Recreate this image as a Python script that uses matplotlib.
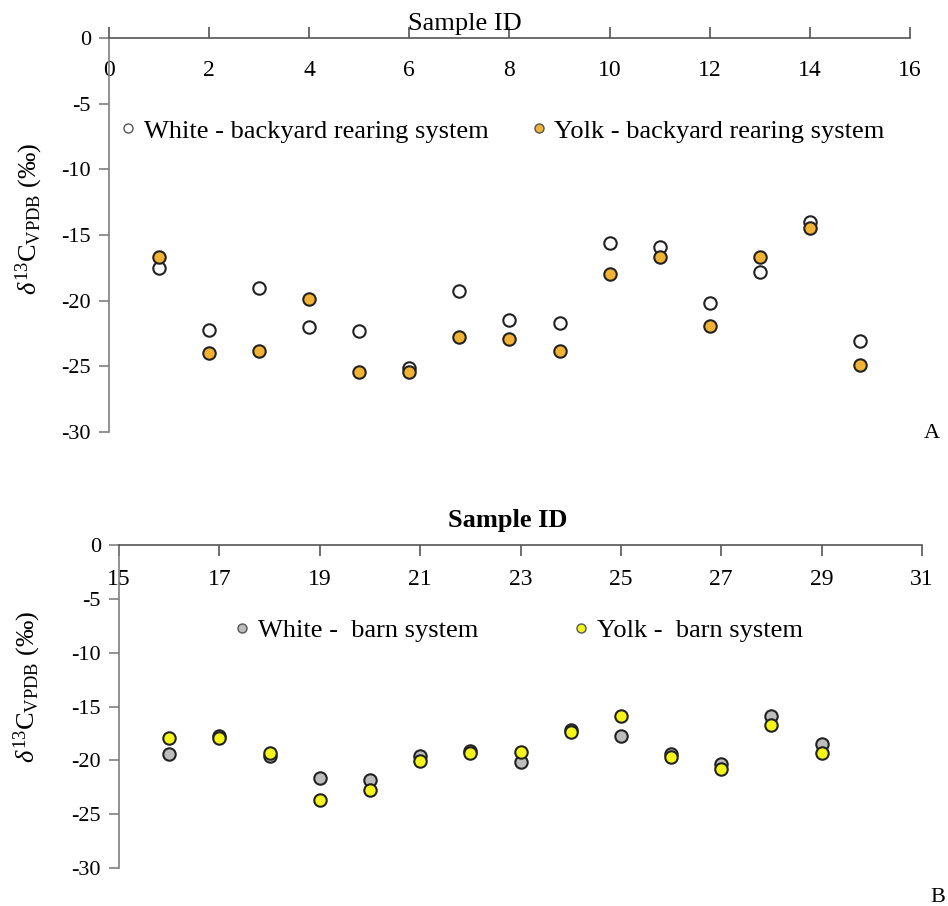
import matplotlib
matplotlib.use("Agg")
import matplotlib.pyplot as plt
from matplotlib.lines import Line2D

plt.rcParams['font.family'] = ['Liberation Serif', 'DejaVu Serif']
plt.rcParams['mathtext.fontset'] = 'custom'
plt.rcParams['mathtext.rm'] = 'Liberation Serif'
plt.rcParams['mathtext.it'] = 'Liberation Serif:italic'

# ---- Panel A: backyard rearing system ----
ids_a = [1, 2, 3, 4, 5, 6, 7, 8, 9, 10, 11, 12, 13, 14, 15]
white_a = [-17.5, -22.2, -19.0, -22.0, -22.3, -25.1, -19.3, -21.5, -21.7, -15.6, -15.9, -20.2, -17.8, -14.0, -23.1]
yolk_a = [-16.7, -24.0, -23.8, -19.9, -25.4, -25.4, -22.8, -22.9, -23.8, -18.0, -16.7, -21.9, -16.7, -14.5, -24.9]
xticks_a = [0, 2, 4, 6, 8, 10, 12, 14, 16]

# ---- Panel B: barn system ----
ids_b = [16, 17, 18, 19, 20, 21, 22, 23, 24, 25, 26, 27, 28, 29]
white_b = [-19.4, -17.7, -19.6, -21.6, -21.8, -19.6, -19.1, -20.2, -17.2, -17.7, -19.4, -20.3, -15.9, -18.5]
yolk_b = [-17.9, -17.9, -19.3, -23.7, -22.8, -20.1, -19.3, -19.2, -17.4, -15.9, -19.7, -20.8, -16.7, -19.3]
xticks_b = [15, 17, 19, 21, 23, 25, 27, 29, 31]

yticks = [0, -5, -10, -15, -20, -25, -30]

W, H = 948, 906
fig = plt.figure(figsize=(W / 100, H / 100), dpi=100)

def px_axes(left, right, top, bottom):
    return fig.add_axes([left / W, 1 - bottom / H, (right - left) / W, (bottom - top) / H])

axA = px_axes(109, 910, 38, 432)
axB = px_axes(119, 922, 545, 868)

edge = '#222222'
axis_col = '#7f7f7f'
ylab = r'$\delta^{13}\mathrm{C}_{\mathrm{VPDB}}$ (‰)'


def style(ax, xt, xlim, tick_dir, pad):
    ax.set_xlim(*xlim)
    ax.set_ylim(-30, 0)
    ax.set_yticks(yticks)
    ax.set_yticklabels([str(v) for v in yticks])
    ax.set_xticks(xt)
    ax.set_xticklabels([str(v) for v in xt])
    ax.xaxis.tick_top()
    for s in ['right', 'bottom']:
        ax.spines[s].set_visible(False)
    ax.spines['left'].set_color(axis_col)
    ax.spines['top'].set_color('#555555')
    ax.spines['left'].set_linewidth(1.2)
    ax.spines['top'].set_linewidth(1.2)
    ax.tick_params(axis='y', direction='out', length=7, width=1.2, color=axis_col,
                   labelsize=16, pad=6)
    ax.tick_params(axis='x', direction=tick_dir, length=8, width=1.2, color='#555555',
                   labelsize=17, labeltop=True, labelbottom=False, pad=pad)
    for lab in ax.get_xticklabels():
        lab.set_verticalalignment('top')


style(axA, xticks_a, (0, 16), 'out', -24)
style(axB, xticks_b, (15, 31), 'in', -17)

ms = 80
axA.scatter(ids_a, white_a, s=ms, facecolor='white', edgecolor=edge, linewidth=1.5, zorder=3, clip_on=False)
axA.scatter(ids_a, yolk_a, s=ms, facecolor='#F2B233', edgecolor=edge, linewidth=1.5, zorder=4, clip_on=False)
axB.scatter(ids_b, white_b, s=ms, facecolor='#BDBDBD', edgecolor=edge, linewidth=1.5, zorder=3, clip_on=False)
axB.scatter(ids_b, yolk_b, s=ms, facecolor='#F5F51A', edgecolor=edge, linewidth=1.5, zorder=4, clip_on=False)

# x-axis titles
axA.text(465 / W, 1 - 24 / H, 'Sample ID', transform=fig.transFigure, ha='center', va='center', fontsize=19)
axB.text(508 / W, 1 - 520 / H, 'Sample ID', transform=fig.transFigure, ha='center', va='center',
         fontsize=19, fontweight='bold')

# y labels
axA.set_ylabel(ylab, fontsize=19)
axA.yaxis.set_label_coords(-0.08, 0.54)
axB.set_ylabel(ylab, fontsize=19)
axB.yaxis.set_label_coords(-0.095, 0.56)

# legends
def legend(ax, labels, faces, x, y, colsp):
    handles = [Line2D([], [], linestyle='none', marker='o', markersize=6.5,
                      markerfacecolor=f, markeredgecolor='#555555', markeredgewidth=1.0)
               for f in faces]
    ax.legend(handles, labels, ncol=2, frameon=False, fontsize=19,
              loc='center left', bbox_to_anchor=(x / W, 1 - y / H),
              bbox_transform=fig.transFigure, handlelength=0.6, handletextpad=0.3,
              columnspacing=colsp, borderpad=0, borderaxespad=0)

legend(axA, ['White - backyard rearing system', 'Yolk - backyard rearing system'],
       ['white', '#F2B233'], 120, 131, 1.6)
legend(axB, ['White -  barn system', 'Yolk -  barn system'],
       ['#BDBDBD', '#F5F51A'], 234, 630, 3.6)

fig.text(932 / W, 1 - 434 / H, 'A', ha='center', va='center', fontsize=16)
fig.text(938 / W, 1 - 898 / H, 'B', ha='center', va='center', fontsize=16)

fig.savefig('out.png', dpi=100, facecolor='white')
